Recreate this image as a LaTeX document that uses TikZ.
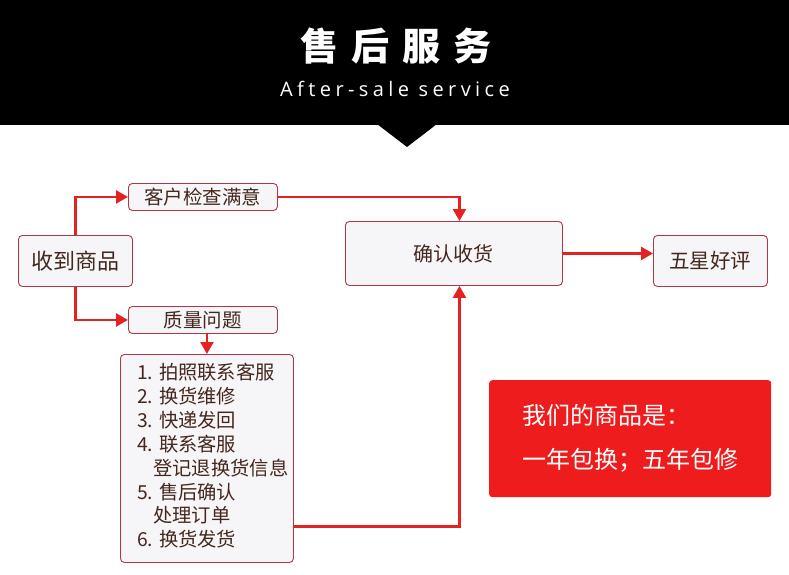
\documentclass[tikz,border=0pt]{standalone}
\usepackage{fontspec}
\setmainfont{Noto Sans CJK SC}
\newfontfamily\cjk{Noto Sans CJK SC}
\newfontfamily\entitle[LetterSpace=22]{Open Sans}
\usetikzlibrary{arrows.meta}
\definecolor{arrowred}{HTML}{E42222}
\definecolor{boxborder}{HTML}{B03545}
\definecolor{boxfill}{HTML}{F6F5F8}
\definecolor{txt}{HTML}{45281C}
\definecolor{promored}{HTML}{EE1C1C}
\tikzset{
  box/.style={draw=boxborder, fill=boxfill, rounded corners=4pt, line width=0.9pt,
    inner sep=0pt, text=txt, anchor=north west},
  flow/.style={draw=arrowred, line width=2.4pt, -{Triangle[length=12pt,width=13pt]}}
}
\begin{document}
\begin{tikzpicture}[x=1pt,y=-1pt]
\useasboundingbox (0,0) rectangle (789,575);
% header
\fill[black] (0,0) rectangle (789,125);
\fill[black] (377,124) -- (407,147) -- (437,124) -- cycle;
\node[text=white, font=\cjk\bfseries\fontsize{38}{38}\selectfont] (title) at (396,46)
  {售\hspace{13pt}后\hspace{13pt}服\hspace{13pt}务};
\node[text=white, font=\entitle\fontsize{20}{20}\selectfont] (subtitle) at (395,89) {After-sale service};
% boxes
\node[box, minimum width=114pt, minimum height=51pt, font=\fontsize{22}{22}\selectfont] (recv) at (18,235) {收到商品};
\node[box, minimum width=149pt, minimum height=27pt, font=\fontsize{19.5}{19.5}\selectfont] (check) at (128,183) {客户检查满意};
\node[box, minimum width=149pt, minimum height=27pt, font=\fontsize{19.5}{19.5}\selectfont] (qual) at (128,306) {质量问题};
\node[box, minimum width=173pt, minimum height=208pt] (list) at (120,354) {};
\node[anchor=north west, inner sep=0pt, align=left, text=txt, font=\fontsize{19.3}{23.9}\selectfont] (listtext) at (137,363)
  {1. 拍照联系客服\\2. 换货维修\\3. 快递发回\\4. 联系客服\\\hspace*{16pt}登记退换货信息\\5. 售后确认\\\hspace*{16pt}处理订单\\6. 换货发货};
\node[box, minimum width=217pt, minimum height=64pt, font=\fontsize{20}{20}\selectfont] (confirm) at (345,221) {确认收货};
\node[box, minimum width=114pt, minimum height=51pt, font=\fontsize{20.5}{20.5}\selectfont] (star) at (653,235) {五星好评};
\node[anchor=north west, fill=promored, rounded corners=3pt, minimum width=282pt, minimum height=117pt,
  inner sep=0pt, text=white, align=left, font=\fontsize{24}{44}\selectfont] (promo) at (489,380)
  {我们的商品是：\\一年包换；五年包修};
% connectors
\draw[flow] (recv.north) |- (check.west);
\draw[flow] (recv.south) |- (qual.west);
\draw[flow] (check.east) -| ([xshift=5.5pt]confirm.north);
\draw[flow] ([xshift=4pt]qual.south) -- ([xshift=4pt]qual.south |- list.north);
\draw[flow] ([yshift=-68pt]list.east) -| ([xshift=5.5pt]confirm.south);
\draw[flow] (confirm.east) -- (confirm.east -| star.west);
\end{tikzpicture}
\end{document}
